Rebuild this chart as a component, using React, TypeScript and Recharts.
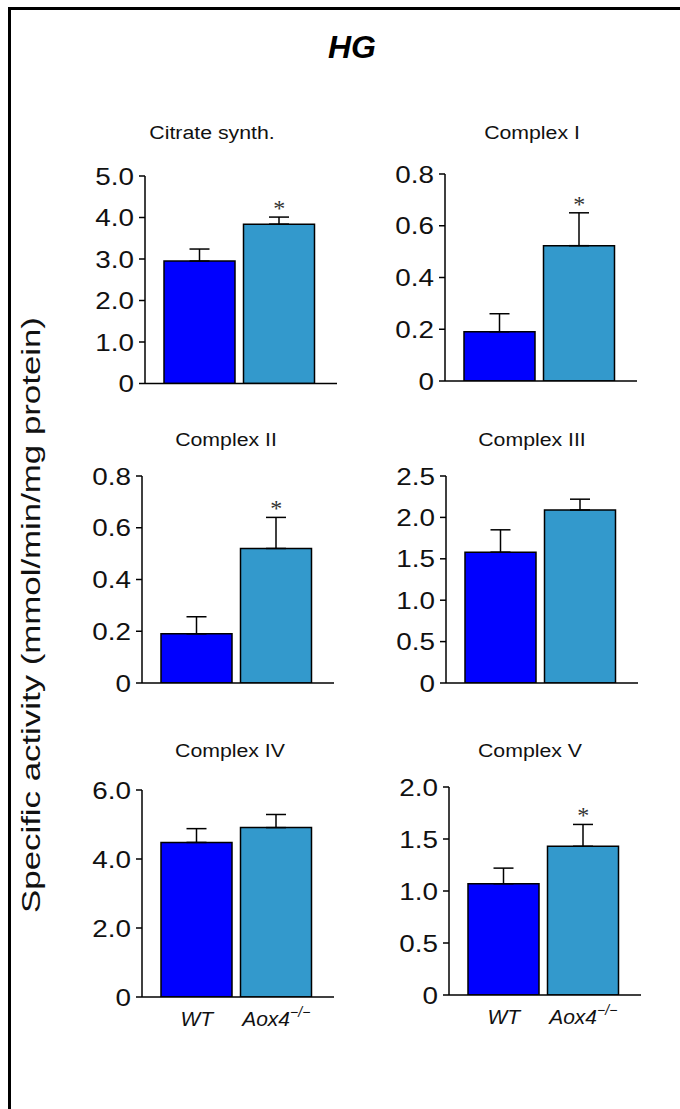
import React from 'react';
import { BarChart, Bar, XAxis, YAxis, Cell, ErrorBar, ReferenceDot } from 'recharts';

const groups = ['WT', 'Aox4'];
const titles = ['Citrate synth.', 'Complex I', 'Complex II', 'Complex III', 'Complex IV', 'Complex V'];
const wtMean = [2.95, 0.19, 0.19, 1.58, 4.48, 1.07];
const wtErr = [0.29, 0.07, 0.066, 0.27, 0.4, 0.15];
const koMean = [3.84, 0.523, 0.52, 2.09, 4.91, 1.43];
const koErr = [0.17, 0.127, 0.12, 0.13, 0.38, 0.21];
const starred = [true, true, true, false, false, true];
const yTicks = [
  [0, 1, 2, 3, 4, 5],
  [0, 0.2, 0.4, 0.6, 0.8],
  [0, 0.2, 0.4, 0.6, 0.8],
  [0, 0.5, 1, 1.5, 2, 2.5],
  [0, 2, 4, 6],
  [0, 0.5, 1, 1.5, 2],
];

// plot area of each panel on the page: left, top, height
const boxes = [
  [145, 176, 207.5],
  [445, 174, 207],
  [142, 476, 207],
  [446, 476, 207],
  [142, 790, 207],
  [449, 787, 208],
];
const titlePos = [
  [212, 139],
  [532, 139],
  [226, 446],
  [532, 446],
  [230, 757],
  [530, 757],
];

const PLOT_W = 192;
const colors = ['#0000ff', '#3399cc'];
const font = '"Liberation Sans", Arial, sans-serif';

const fmt = (v: number) => (v === 0 ? '0' : v.toFixed(1));

const YTick = (props: any) => {
  const { x, y, payload } = props;
  return (
    <text
      transform={`translate(${x},${y}) scale(1.16,1)`}
      textAnchor="end"
      dy="0.36em"
      fontFamily={font}
      fontSize={24}
      fill="#111"
    >
      {fmt(payload.value)}
    </text>
  );
};

const XTick = (props: any) => {
  const { x, y, payload } = props;
  return (
    <text
      x={x}
      y={y + 21}
      textAnchor="middle"
      fontFamily={font}
      fontSize={21}
      fontStyle="italic"
      fill="#111"
    >
      {payload.value}
      {payload.value === 'Aox4' && (
        <tspan dy={-9} fontSize={14}>
          −/−
        </tspan>
      )}
    </text>
  );
};

const Star = (props: any) => (
  <text
    x={props.cx}
    y={props.cy - 1}
    textAnchor="middle"
    fontFamily='"Liberation Serif", serif'
    fontSize={24}
    fill="#333"
  >
    *
  </text>
);

const Panel = ({ i }: { i: number }) => {
  const [left, top, h] = boxes[i];
  const data = groups.map((g, j) => ({
    group: g,
    mean: j === 0 ? wtMean[i] : koMean[i],
    err: [0, j === 0 ? wtErr[i] : koErr[i]],
  }));
  const ticks = yTicks[i];
  const bottomRow = i >= 4;
  return (
    <div style={{ position: 'absolute', left: left - 70, top: top - 30 }}>
      <BarChart
        width={70 + PLOT_W + 10}
        height={30 + h + 50}
        data={data}
        margin={{ top: 30, right: 10, bottom: 0, left: 0 }}
        barSize={71}
      >
        <XAxis
          dataKey="group"
          height={50}
          padding={{ left: 15, right: 18 }}
          axisLine={{ stroke: '#000', strokeWidth: 1.5 }}
          tickLine={false}
          tick={bottomRow ? <XTick /> : false}
          interval={0}
        />
        <YAxis
          width={70}
          domain={[0, ticks[ticks.length - 1]]}
          ticks={ticks}
          interval={0}
          allowDataOverflow
          axisLine={{ stroke: '#000', strokeWidth: 1.5 }}
          tickLine={{ stroke: '#000', strokeWidth: 1.5 }}
          tickSize={6}
          tickMargin={5}
          tick={<YTick />}
        />
        <Bar dataKey="mean" stroke="#000" strokeWidth={1.5} isAnimationActive={false}>
          {data.map((d, j) => (
            <Cell key={d.group} fill={colors[j]} />
          ))}
          <ErrorBar dataKey="err" width={10} stroke="#000" strokeWidth={1.5} direction="y" />
        </Bar>
        {starred[i] && (
          <ReferenceDot x={groups[1]} y={koMean[i] + koErr[i]} r={0} shape={<Star />} />
        )}
      </BarChart>
    </div>
  );
};

export default function App() {
  return (
    <div style={{ position: 'absolute', left: 0, top: 0, width: 680, height: 1109, background: '#fff' }}>
      <div
        style={{
          position: 'absolute',
          left: 8,
          top: 7,
          width: 672,
          height: 1102,
          boxSizing: 'border-box',
          borderTop: '3px solid #000',
          borderLeft: '3px solid #000',
        }}
      />
      <svg width={680} height={1109} style={{ position: 'absolute', left: 0, top: 0 }}>
        <text x={352} y={58} textAnchor="middle" fontFamily={font} fontSize={32} fontWeight="bold" fontStyle="italic" fill="#000">
          HG
        </text>
        {titles.map((t, i) => (
          <text
            key={t}
            transform={`translate(${titlePos[i][0]},${titlePos[i][1]}) scale(1.12,1)`}
            textAnchor="middle"
            fontFamily={font}
            fontSize={19}
            fill="#111"
          >
            {t}
          </text>
        ))}
        <text
          transform="translate(40,615) rotate(-90) scale(1.34,1)"
          textAnchor="middle"
          fontFamily={font}
          fontSize={26}
          fill="#111"
        >
          Specific activity (mmol/min/mg protein)
        </text>
      </svg>
      {titles.map((t, i) => (
        <Panel key={t} i={i} />
      ))}
    </div>
  );
}
